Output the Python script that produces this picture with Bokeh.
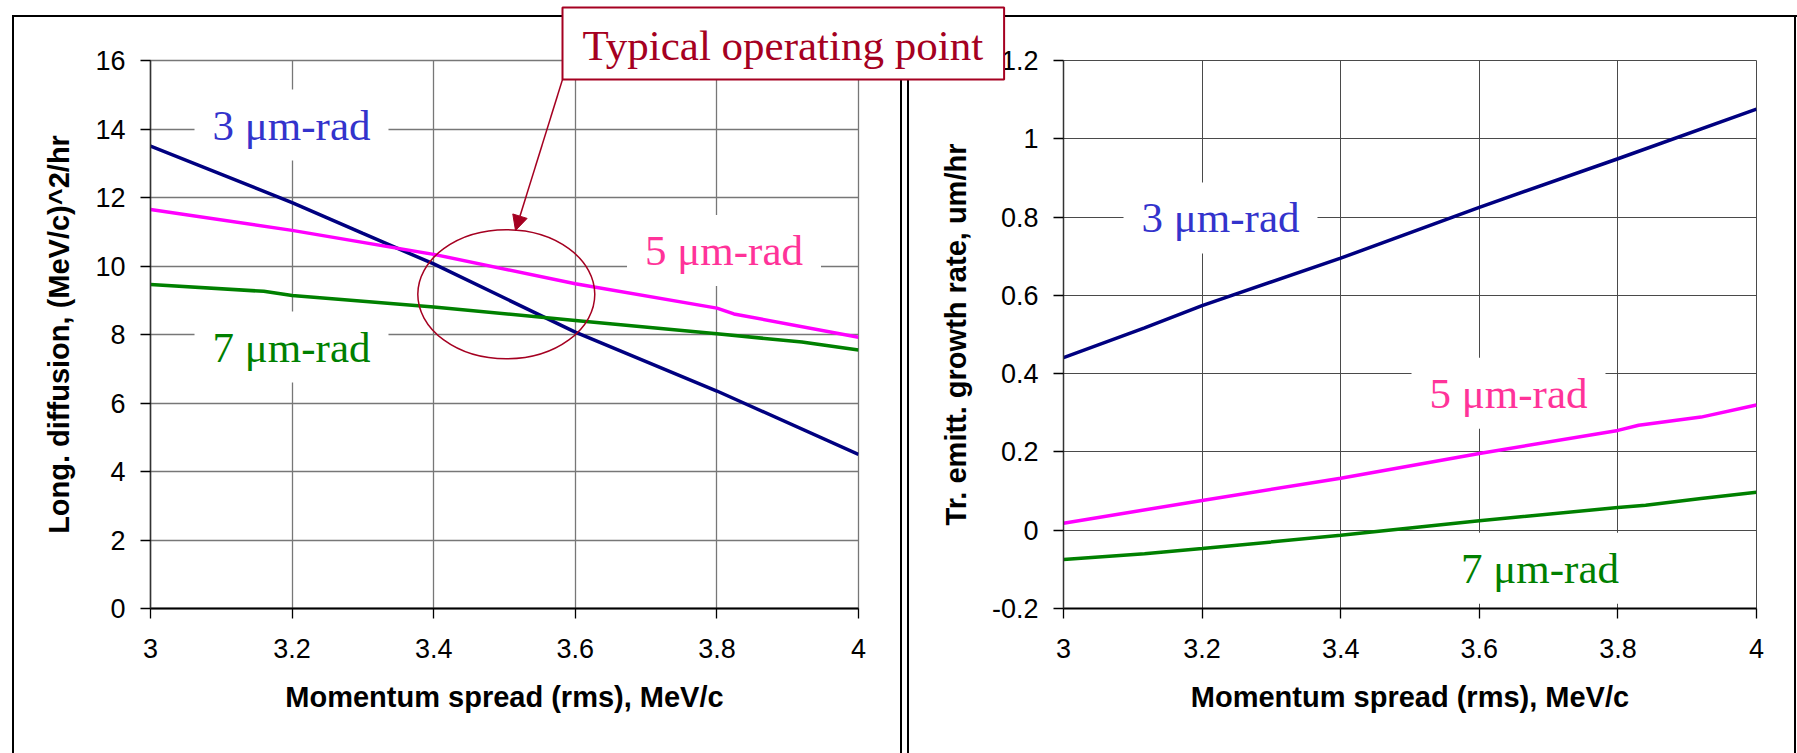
from bokeh.plotting import figure
from bokeh.layouts import row
from bokeh.models import (Range1d, FixedTicker, CustomJSTickFormatter, Label,
                          Arrow, NormalHead, Title)
from bokeh.embed import file_html
from bokeh.resources import INLINE

# ---------------- data ----------------
x_ticks = [3.0, 3.2, 3.4, 3.6, 3.8, 4.0]
x_tick_labels = ["3", "3.2", "3.4", "3.6", "3.8", "4"]
left_y_ticks = [0, 2, 4, 6, 8, 10, 12, 14, 16]
left_y_tick_labels = ["0", "2", "4", "6", "8", "10", "12", "14", "16"]
right_y_ticks = [-0.2, 0.0, 0.2, 0.4, 0.6, 0.8, 1.0, 1.2]
right_y_tick_labels = ["-0.2", "0", "0.2", "0.4", "0.6", "0.8", "1", "1.2"]

# Left panel: longitudinal diffusion, (MeV/c)^2/hr
ld_x_3 = [3.0, 3.2, 3.3, 3.4, 3.6, 3.8, 4.0]
ld_y_3 = [13.5, 11.85, 10.95, 10.06, 8.07, 6.35, 4.5]
ld_x_5 = [3.0, 3.2, 3.4, 3.6, 3.8, 3.824, 4.0]
ld_y_5 = [11.65, 11.04, 10.34, 9.48, 8.77, 8.60, 7.92]
ld_x_7 = [3.0, 3.16, 3.2, 3.4, 3.6, 3.8, 3.92, 4.0]
ld_y_7 = [9.46, 9.26, 9.14, 8.80, 8.41, 8.02, 7.78, 7.55]

# Right panel: transverse emittance growth rate, um/hr
tr_x_3 = [3.0, 3.117, 3.2, 3.4, 3.6, 3.8, 4.0]
tr_y_3 = [0.441, 0.517, 0.574, 0.695, 0.825, 0.949, 1.076]
tr_x_5 = [3.0, 3.2, 3.4, 3.6, 3.8, 3.83, 3.92, 4.0]
tr_y_5 = [0.018, 0.076, 0.133, 0.196, 0.255, 0.268, 0.289, 0.320]
tr_x_7 = [3.0, 3.117, 3.2, 3.4, 3.6, 3.8, 3.84, 3.92, 4.0]
tr_y_7 = [-0.075, -0.060, -0.047, -0.013, 0.024, 0.058, 0.064, 0.081, 0.097]

series_names = ["3 \u03bcm-rad", "5 \u03bcm-rad", "7 \u03bcm-rad"]
line_colors = ["#000080", "#FF00FF", "#008000"]
text_colors = ["#3333CC", "#FF3399", "#008000"]
ANN = "#A50021"

SANS = "Liberation Sans"
SERIF = "Liberation Serif"

# ---------------- layout constants (page pixels) ----------------
H = 753
LW, L_LEFT, L_TOP, L_FW, L_FH = 904, 150, 60, 708, 548
R_PAGE_X = 560                      # right canvas starts here (overlaps the left one)
RW = 1797 - R_PAGE_X
R_LEFT, R_TOP, R_FW, R_FH = 1063 - R_PAGE_X, 60, 693, 550


def l_data(px, py):
    return 3 + (px - L_LEFT) / L_FW, 16 - (py - L_TOP) / L_FH * 16


def r_data(px, py):
    return 3 + (px - R_PAGE_X - R_LEFT) / R_FW, 1.2 - (py - R_TOP) / R_FH * 1.4


def fmt(tvals, tlabels):
    return CustomJSTickFormatter(
        args=dict(tvals=tvals, tlabels=tlabels),
        code="const i = tvals.findIndex(t => Math.abs(t - tick) < 1e-9);"
             "return i >= 0 ? tlabels[i] : '';")


def make_fig(width, left, fw, top, fh, yr, yticks, ylabels, ytitle, gridc, gridw, styles):
    p = figure(width=width, height=H, output_backend="svg", toolbar_location=None,
               x_range=Range1d(3, 4), y_range=yr,
               min_border_left=left, min_border_right=width - left - fw,
               min_border_top=top, min_border_bottom=H - top - fh,
               background_fill_color="white", border_fill_alpha=0,
               outline_line_color=gridc, outline_line_width=gridw,
               styles=styles)
    p.xaxis.ticker = FixedTicker(ticks=x_ticks)
    p.xaxis.formatter = fmt(x_ticks, x_tick_labels)
    p.yaxis.ticker = FixedTicker(ticks=yticks)
    p.yaxis.formatter = fmt(yticks, ylabels)
    for ax in (p.xaxis[0], p.yaxis[0]):
        ax.major_tick_out = 10
        ax.major_tick_in = 0
        ax.minor_tick_out = 0
        ax.minor_tick_in = 0
        ax.major_tick_line_color = "black"
        ax.major_tick_line_width = 1.3
        ax.major_label_text_font = SANS
        ax.major_label_text_font_size = "27px"
        ax.major_label_text_color = "black"
        ax.axis_label_text_font = SANS
        ax.axis_label_text_font_size = "29px"
        ax.axis_label_text_font_style = "bold"
        ax.axis_label_text_color = "black"
    p.xaxis.axis_line_color = "black"
    p.xaxis.axis_line_width = 2
    p.yaxis.axis_line_color = "#333333"
    p.yaxis.axis_line_width = 1.5
    p.xaxis.major_label_standoff = 20
    p.yaxis.major_label_standoff = 15
    p.xaxis.axis_label_standoff = 20
    p.yaxis.axis_label_standoff = 17
    p.xaxis.axis_label = "Momentum spread (rms), MeV/c"
    p.yaxis.axis_label = ytitle
    p.xgrid.ticker = FixedTicker(ticks=x_ticks)
    p.ygrid.ticker = FixedTicker(ticks=yticks)
    p.grid.grid_line_color = gridc
    p.grid.grid_line_width = gridw
    return p


# panel frames drawn with CSS behind the transparent canvas borders
left_styles = {"box-shadow": ("inset 12px 15px 0 0 #ffffff, inset -2px 0 0 0 #ffffff, "
                              "inset 14px 17px 0 0 #000000, inset -4px 0 0 0 #000000")}
rx = 907 - R_PAGE_X
right_styles = {
    "background": (f"linear-gradient(#000,#000) {rx}px 15px / 2px 100% no-repeat, "
                   f"linear-gradient(#000,#000) {rx}px 15px / 100% 2px no-repeat, "
                   f"linear-gradient(#000,#000) {1794 - R_PAGE_X}px 15px / 2px 100% no-repeat"),
    "margin-left": f"-{LW - R_PAGE_X}px",
}

left = make_fig(LW, L_LEFT, L_FW, L_TOP, L_FH, Range1d(0, 16), left_y_ticks,
                left_y_tick_labels, "Long. diffusion, (MeV/c)^2/hr", "#777777", 1.3,
                left_styles)
right = make_fig(RW, R_LEFT, R_FW, R_TOP, R_FH, Range1d(-0.2, 1.2), right_y_ticks,
                 right_y_tick_labels, "Tr. emitt. growth rate, um/hr", "#4a4a4a", 1.0,
                 right_styles)

# curves
for xs, ys, c in zip((ld_x_3, ld_x_5, ld_x_7), (ld_y_3, ld_y_5, ld_y_7), line_colors):
    left.line(xs, ys, line_color=c, line_width=3.5)
for xs, ys, c in zip((tr_x_3, tr_x_5, tr_x_7), (tr_y_3, tr_y_5, tr_y_7), line_colors):
    right.line(xs, ys, line_color=c, line_width=3.5)

# curve labels (page-pixel anchors converted through each panel's scales)
left_label_px = [(291, 124.5), (723.5, 250), (291, 346.5)]
right_label_px = [(1220, 218), (1508, 394), (1539.5, 569.5)]
pad = dict(left=18, right=18, top=12, bottom=12)
for p, conv, positions in ((left, l_data, left_label_px), (right, r_data, right_label_px)):
    for (px, py), name, c in zip(positions, series_names, text_colors):
        x, y = conv(px, py)
        p.add_layout(Label(x=x, y=y, text=name, text_font=SERIF,
                           text_font_size="43px", text_color=c,
                           text_align="center", text_baseline="middle",
                           background_fill_color="white", padding=pad))

# typical operating point marker
ex, ey = l_data(505.8, 293.8)
left.ellipse(x=[ex], y=[ey], width=177 / L_FW, height=129 / L_FH * 16,
             fill_alpha=0, line_color=ANN, line_width=1.5)
ax0, ay0 = l_data(562, 79)
ax1, ay1 = l_data(515, 230)
left.add_layout(Arrow(x_start=ax0, y_start=ay0, x_end=ax1, y_end=ay1,
                      line_color=ANN, line_width=1.5,
                      end=NormalHead(size=15, fill_color=ANN, line_color=ANN)))

# callout box: a title of the right panel (whose canvas overlaps the left one),
# plus an invisible spacer title so that the top panel is exactly filled
BOX_LEFT = 562  # page x of the callout box's left edge
callout = Title(text="Typical operating point", align="left", vertical_align="bottom",
                offset=(BOX_LEFT - R_PAGE_X) - R_LEFT, standoff=-38,
                text_font=SERIF, text_font_size="43px", text_font_style="normal",
                text_color=ANN, background_fill_color="white",
                border_line_color=ANN, border_line_width=2,
                padding=dict(left=20, right=21, top=14, bottom=11))
right.add_layout(callout, "above")
spacer = Title(text=" ", text_font=SANS, text_font_size="10px", standoff=10,
               text_alpha=0)
right.add_layout(spacer, "above")

layout = row(left, right, spacing=0)
open("out.html", "w").write(file_html(layout, INLINE))
